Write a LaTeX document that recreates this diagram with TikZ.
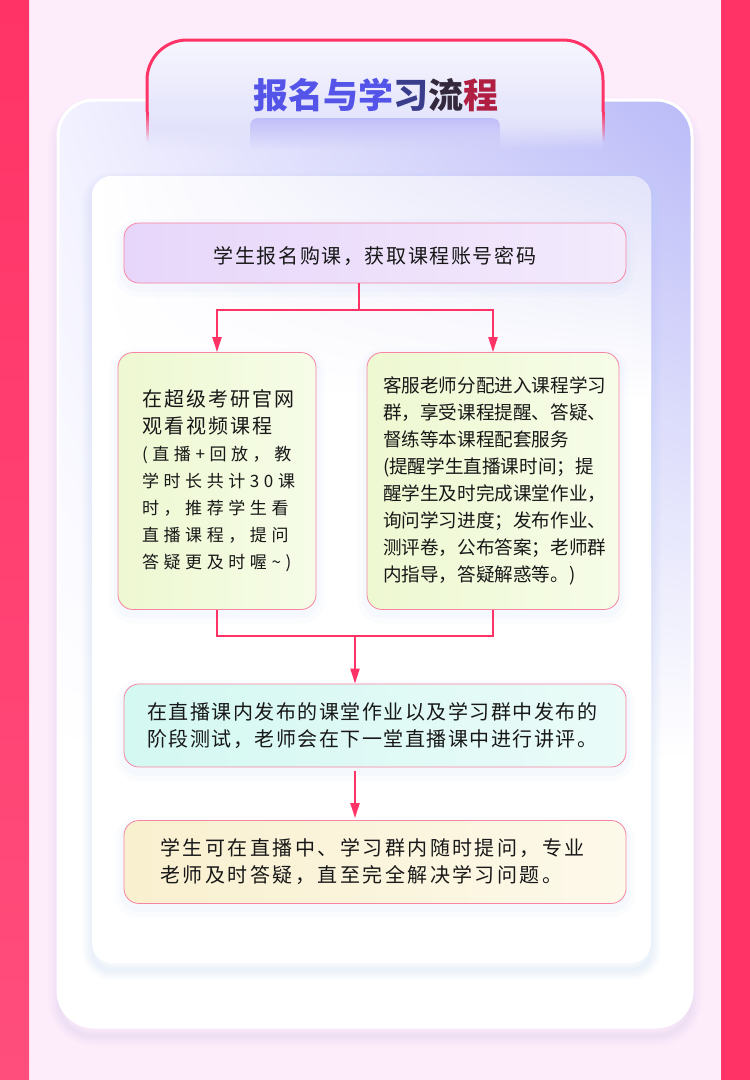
\documentclass[tikz,border=0pt]{standalone}
\usepackage{fontspec}
\setmainfont{Noto Sans CJK SC}
\newfontfamily\plainfont{Noto Sans CJK SC}
\newfontfamily\widefont[LetterSpace=8]{Noto Sans CJK SC}
\newfontfamily\headfont[LetterSpace=10]{Noto Sans CJK SC}
\newfontfamily\widerfont[LetterSpace=12.5]{Noto Sans CJK SC}
\newfontfamily\hwfont[LetterSpace=7.5]{Noto Sans CJK SC}
\newfontfamily\notefont[LetterSpace=27]{Noto Sans CJK SC}
\usetikzlibrary{arrows.meta,shadings}

\definecolor{flowred}{RGB}{255,51,102}
\definecolor{stripbot}{RGB}{255,78,124}
\definecolor{bgpink}{RGB}{253,237,251}
\definecolor{boxedge}{RGB}{247,132,162}
\definecolor{inkc}{RGB}{24,24,24}
\definecolor{glowblue}{RGB}{180,200,250}
\definecolor{glowlilac}{RGB}{205,185,242}
\definecolor{cardtl}{RGB}{242,241,255}
\definecolor{cardlav}{RGB}{186,186,248}
\definecolor{paneltr}{RGB}{226,226,250}
\definecolor{tabtop}{RGB}{246,246,254}
\definecolor{tabmid}{RGB}{206,206,248}
\definecolor{tabbot}{RGB}{226,226,251}
\definecolor{pillc}{RGB}{192,190,249}
\definecolor{titleblue}{RGB}{84,84,232}
\definecolor{titlemid}{RGB}{58,60,140}
\definecolor{titledark}{RGB}{52,40,60}
\definecolor{titlered}{RGB}{176,30,66}
\definecolor{lilacl}{RGB}{231,214,250}
\definecolor{lilacr}{RGB}{243,234,252}
\definecolor{greenl}{RGB}{238,248,209}
\definecolor{greenr}{RGB}{246,252,232}
\definecolor{cyanl}{RGB}{212,248,242}
\definecolor{cyanr}{RGB}{234,251,248}
\definecolor{sandl}{RGB}{249,240,207}
\definecolor{sandr}{RGB}{253,249,234}

\def\softglow[#1](#2)(#3)#4{\foreach \w in {2,5,...,20} \draw[#1, line width=\w*1pt, opacity=0.035, rounded corners=#4] (#2) rectangle (#3);}
\def\fadebar[#1](#2,#3)(#4,#5){\foreach \k [evaluate=\k as \op using 1-(\k+0.5)/16] in {0,...,15} \fill[#1, opacity=\op] (#2,{#3+(#5-#3)*\k/16}) rectangle (#4,{#3+(#5-#3)*(\k+1)/16});}

\begin{document}
\begin{tikzpicture}[x=1pt, y=-1pt,
		stepbox/.style={draw=boxedge, line width=0.8pt, rounded corners=15pt, inner sep=0pt, text=inkc,
			preaction={draw=glowblue, line width=18pt, opacity=0.05, transform canvas={yshift=-5pt}},
			preaction={draw=glowblue, line width=9pt, opacity=0.07, transform canvas={yshift=-4pt}}},
		flowline/.style={draw=flowred, line width=2pt},
		flowarrow/.style={flowline, -{Triangle[length=15pt,width=9pt]}}]
		%%%%% BACKDROP %%%%%
		\useasboundingbox (0,0) rectangle (750,1080);
		\fill[bgpink] (0,0) rectangle (750,1080);
		\shade[top color=flowred, bottom color=stripbot] (0,0) rectangle (29,1080);
		\fill[flowred] (721,0) rectangle (750,1080);
		
		%%%%% CARD %%%%%
		\softglow[glowlilac](58,108)(692,1036){36pt}
		\fill[white, rounded corners=36pt] (58,100) rectangle (692,1027);
		\begin{scope}
			\clip[rounded corners=36pt] (58,100) rectangle (692,1027);
			\shade[upper left=cardtl, upper right=cardlav, lower left=white, lower right=white] (58,100) rectangle (692,760);
		\end{scope}
		\draw[white, line width=3pt, rounded corners=36pt] (58,100) rectangle (692,1027);
		
		%%%%% TAB %%%%%
		\begin{scope}
			\clip[rounded corners=40pt] (147,40) rectangle (603,220);
			\shade[top color=tabtop, middle color=tabmid, bottom color=tabbot] (147,40) rectangle (603,126);
			\fadebar[tabbot](147,126)(603,150)
		\end{scope}
		\draw[flowred, line width=3pt, rounded corners=40pt] (147,112) -- (147,40) -- (603,40) -- (603,112);
		\fadebar[flowred](145.5,112)(148.5,142)
		\fadebar[flowred](601.5,112)(604.5,142)
		\begin{scope}
			\clip[rounded corners=8pt] (250,118) rectangle (500,170);
			\fadebar[pillc](250,118)(500,150)
		\end{scope}
		\node (title) at (376,95) {\fontsize{35}{40}\selectfont\bfseries \textcolor{titleblue}{报名与学}\textcolor{titlemid}{习}\textcolor{titledark}{流}\textcolor{titlered}{程}};
		
		%%%%% PANEL %%%%%
		\softglow[glowblue](92,182)(651,970){20pt}
		\fill[white, rounded corners=20pt] (92,176) rectangle (651,963);
		\begin{scope}
			\clip[rounded corners=20pt] (92,176) rectangle (651,963);
			\shade[upper left=white, upper right=paneltr, lower left=white, lower right=white] (92,176) rectangle (651,400);
		\end{scope}
		
		%%%%% STEPS %%%%%
		\node[stepbox, left color=lilacl, right color=lilacr, minimum width=502pt, minimum height=60pt, text height=22pt, text depth=2pt,
			font={\widefont\fontsize{20}{27}\selectfont}] (enroll) at (375,253)
			{学生报名购课，获取课程账号密码};
		
		\node[stepbox, left color=greenl, right color=greenr, minimum width=198pt, minimum height=257pt, text width=150pt, align=left,
			font={\notefont\fontsize{17}{27}\selectfont}] (watch) at (217,481)
			{{\headfont\fontsize{20}{27}\selectfont 在超级考研官网\\观看视频课程}\\
			(直播+回放，教\\学时长共计30课\\时，推荐学生看\\直播课程，提问\\答疑更及时喔\textasciitilde)};
		
		\node[stepbox, left color=greenl, right color=greenr, minimum width=252pt, minimum height=257pt, text width=220pt, align=left,
			font={\plainfont\fontsize{18.6}{26.9}\selectfont}] (service) at (493,481)
			{客服老师分配进入课程学习\\群，享受课程提醒、答疑、\\督练等本课程配套服务\\(提醒学生直播课时间；提\\醒学生及时完成课堂作业，\\询问学习进度；发布作业、\\测评卷，公布答案；老师群\\内指导，答疑解惑等。)};
		
		\node[stepbox, left color=cyanl, right color=cyanr, minimum width=502pt, minimum height=83pt, text width=456pt, align=left,
			font={\hwfont\fontsize{20}{27}\selectfont}] (homework) at (375,725.5)
			{在直播课内发布的课堂作业以及学习群中发布的\\阶段测试，老师会在下一堂直播课中进行讲评。};
		
		\node[stepbox, left color=sandl, right color=sandr, minimum width=502pt, minimum height=83pt, text width=430pt, align=left,
			font={\widerfont\fontsize{20}{27}\selectfont}] (askq) at (375,862)
			{学生可在直播中、学习群内随时提问，专业\\老师及时答疑，直至完全解决学习问题。};
		
		%%%%% LINKS %%%%%
		\coordinate (split) at (359,310);
		\coordinate (join) at (355,636);
		\draw[flowline] (enroll.south -| split) -- (split);
		\draw[flowarrow] (split) -| (watch.north);
		\draw[flowarrow] (split) -| (service.north);
		\draw[flowline] (watch.south) |- (join) -| (service.south);
		\draw[flowarrow] (join) -- (homework.north -| join);
		\draw[flowarrow, shorten <=4pt, shorten >=2pt] (homework.south -| join) -- (askq.north -| join);
	\end{tikzpicture}
\end{document}
